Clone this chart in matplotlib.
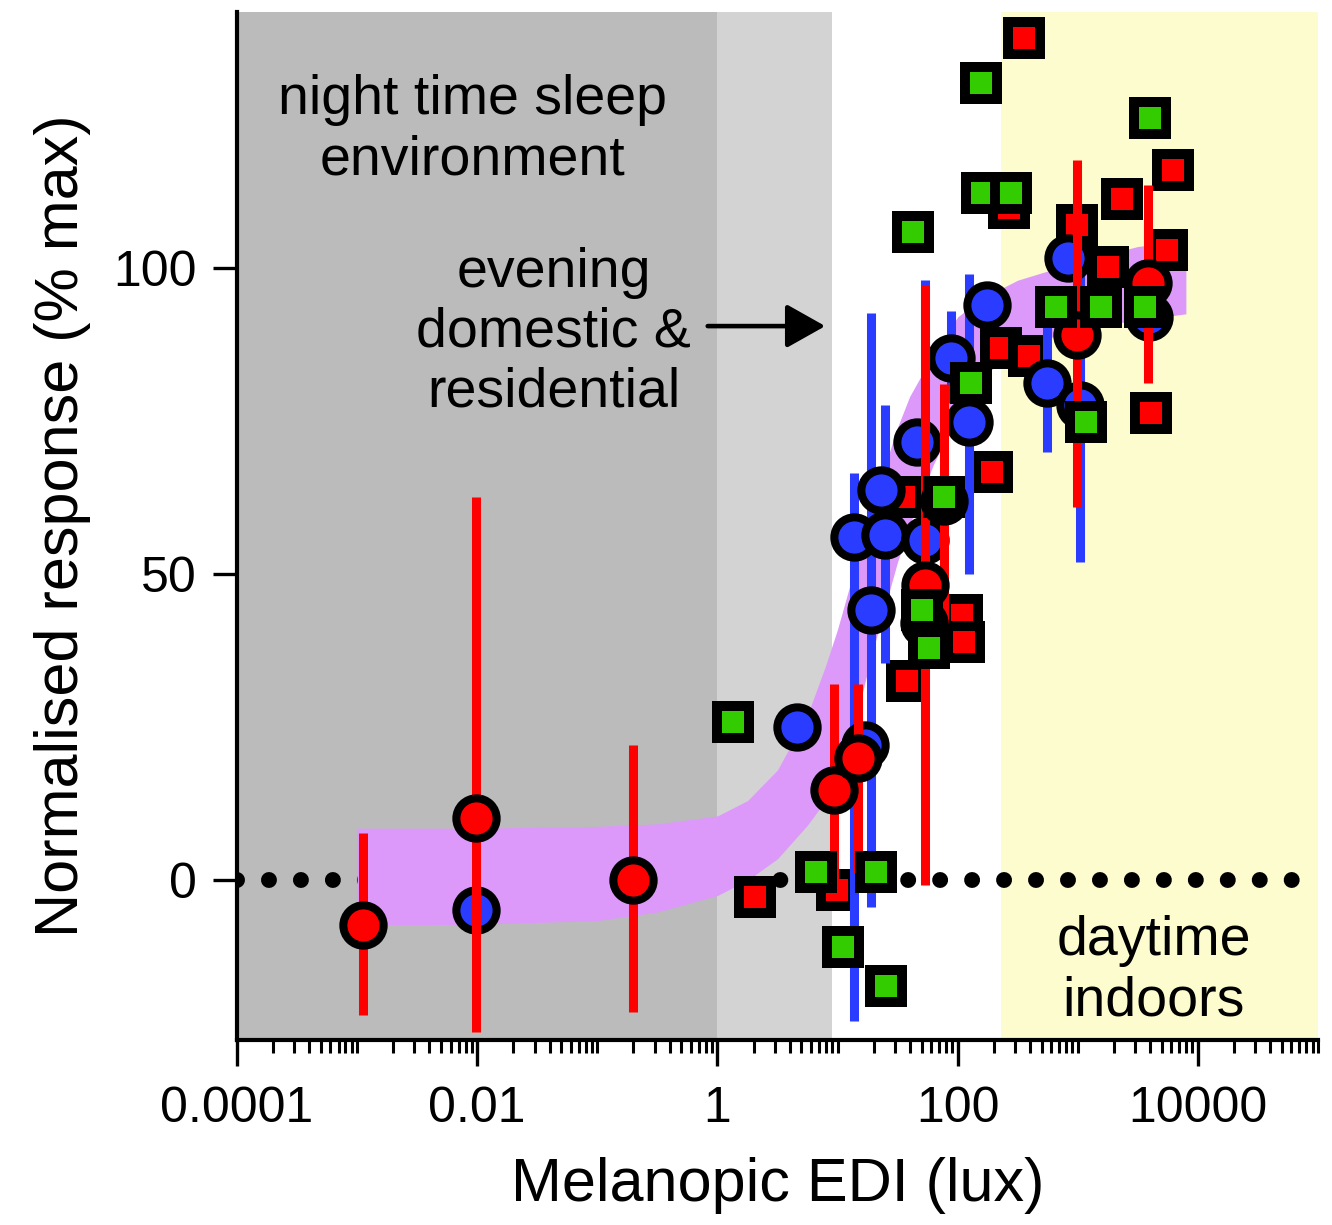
import matplotlib
matplotlib.use("Agg")
import matplotlib.pyplot as plt
import numpy as np

plt.rcParams['font.family'] = ['Liberation Sans', 'DejaVu Sans']

# red circles (mean +/- error)
red_circ_x = [0.00113, 0.0098, 0.2, 9.4, 14.7, 53.7, 980, 3860, 77, 52]
red_circ_y = [-7.35, 10.1, 0.0, 14.7, 20.0, 48.2, 89.0, 97.5, 62.0, 42.0]
red_circ_lo = [-22.0, -24.8, -21.6, -2.8, 1.1, -0.8, 61.0, 81.2, 42.0, 42.0]
red_circ_hi = [7.7, 62.6, 22.0, 32.0, 32.0, 97.2, 117.6, 113.6, 81.0, 42.0]

# blue circles
blue_x = [0.0098, 4.57, 13.8, 17, 19.1, 23.2, 25, 46, 53.7, 88, 124, 174, 550, 835, 1050, 3880]
blue_y = [-4.9, 25, 56, 22, 44.1, 63.7, 56.4, 71.6, 55.6, 85.3, 74.8, 94, 81.2, 101.6, 77.6, 92]
blue_lo = [-4.9, 25, -23, 22, -4.4, 63.7, 35.5, 71.6, 13, 78, 50, 94, 70, 101.6, 52, 92]
blue_hi = [-4.9, 25, 66.5, 22, 92.6, 63.7, 77.6, 71.6, 98, 93, 99, 94, 92, 101.6, 103, 92]

# green squares
green_x = [1.35, 156, 42.6, 160, 277, 4000, 6.6, 21, 11, 25.5, 129, 77, 50.6, 57.6, 656, 1550, 3650, 1180]
green_y = [25.8, 130.2, 105.9, 112.3, 112.3, 124.5, 1.3, 1.3, -10.9, -17.2, 81.2, 62.6, 44.1, 38, 93.6, 93.6, 93.6, 74.8]

# red squares
red_sq_x = [355, 2.05, 9.8, 6200, 2350, 980, 1800, 5560, 230, 390, 4100, 267, 193, 38, 109, 113, 36]
red_sq_y = [137.6, -2.8, -1.6, 116, 111.3, 107, 100.2, 103, 86.9, 85.6, 76.3, 109.8, 66.7, 32.5, 43.3, 38.9, 62.6]

# fitted curve confidence band
band_x = [0.001, 0.01, 0.1, 0.316, 1.0, 1.78, 3.16, 5.62, 7.94, 10, 12.6, 15.8, 20, 25.1,
          31.6, 39.8, 63.1, 100, 158, 316, 1000, 3162, 7943]
band_lo = [-7.3, -7.2, -6.6, -5.2, -2.5, 0.0, 3.5, 9, 13, 16.5, 22, 30, 38, 45,
           52, 58, 68, 76, 82, 87, 90, 91.5, 92.5]
band_hi = [8.5, 8.5, 8.8, 9.2, 10.5, 13, 18, 27, 35, 41, 48, 55, 62, 68,
           74, 79, 86, 92, 95, 98, 101, 103.5, 104.5]

xtick_vals = [1e-4, 1e-2, 1, 1e2, 1e4]
xtick_labels = ['0.0001', '0.01', '1', '100', '10000']
ytick_vals = [0, 50, 100]

fig = plt.figure(figsize=(13.32, 12.25), dpi=100)
ax = fig.add_axes([237 / 1332, 1 - 1040 / 1225, (1318 - 237) / 1332, (1040 - 12) / 1225])
ax.set_xscale('log')
ax.set_xlim(1e-4, 1e5)
ax.set_ylim(-26.1, 141.8)

ax.axvspan(1e-4, 1, color='#bbbbbb', lw=0, zorder=0)
ax.axvspan(1, 9, color='#d3d3d3', lw=0, zorder=0)
ax.axvspan(230, 1e5, color='#fdfcce', lw=0, zorder=0)

ax.axhline(0, color='black', lw=11.5, linestyle=(0, (0.001, 2.0)),
           dash_capstyle='round', zorder=1)

ax.fill_between(band_x, band_lo, band_hi, color='#dc99fa', lw=0, zorder=2)

sq = dict(marker='s', ms=23, mew=7.2, mec='black', ls='none')
ci = dict(marker='o', ms=29, mew=5.8, mec='black', ls='none')

ax.plot(red_sq_x, red_sq_y, mfc='#ff0000', zorder=3, **sq)

b_err = [np.array(blue_y) - np.array(blue_lo), np.array(blue_hi) - np.array(blue_y)]
ax.errorbar(blue_x, blue_y, yerr=b_err, fmt='none', ecolor='#2a3cff', elinewidth=6.5,
            capsize=0, zorder=4)
ax.plot(blue_x, blue_y, mfc='#2a3cff', zorder=5, **ci)

r_err = [np.array(red_circ_y) - np.array(red_circ_lo), np.array(red_circ_hi) - np.array(red_circ_y)]
ax.errorbar(red_circ_x, red_circ_y, yerr=r_err, fmt='none', ecolor='#ff0000', elinewidth=6.5,
            capsize=0, zorder=6)
ax.plot(red_circ_x, red_circ_y, mfc='#ff0000', zorder=7, **ci)

ax.plot(green_x, green_y, mfc='#33cc00', zorder=8, **sq)

# annotations
ax.text(0.0091, 122.5, 'night time sleep\nenvironment', fontsize=40, ha='center', va='center',
        linespacing=1.2, zorder=9)
ax.text(0.0434, 89.4, 'evening\ndomestic &\nresidential', fontsize=40, ha='center', va='center',
        linespacing=1.2, zorder=9)
ax.text(4270, -14.9, 'daytime\nindoors', fontsize=40, ha='center', va='center',
        linespacing=1.2, zorder=9)
ax.annotate('', xy=(7.9, 90.5), xytext=(0.83, 90.5),
            arrowprops=dict(arrowstyle='-|>,head_length=0.8,head_width=0.45', mutation_scale=30,
                            lw=3.3, color='black', shrinkA=0, shrinkB=0), zorder=9)

for s in ['top', 'right']:
    ax.spines[s].set_visible(False)
for s in ['left', 'bottom']:
    ax.spines[s].set_linewidth(3)
    ax.spines[s].set_zorder(10)

ax.set_xticks(xtick_vals, xtick_labels)
ax.xaxis.set_minor_locator(matplotlib.ticker.LogLocator(base=10, subs=np.arange(1, 10), numticks=50))
ax.xaxis.set_minor_formatter(matplotlib.ticker.NullFormatter())
ax.set_yticks(ytick_vals)
ax.tick_params(axis='x', which='major', length=19, width=2.4, labelsize=36, pad=14)
ax.tick_params(axis='x', which='minor', length=9, width=2.2)
ax.tick_params(axis='y', which='major', length=17, width=2.4, labelsize=36, pad=12)

ax.set_xlabel('Melanopic EDI (lux)', fontsize=44, labelpad=18)
ax.set_ylabel('Normalised response (% max)', fontsize=44, labelpad=16)

fig.savefig('out.png', dpi=100)
